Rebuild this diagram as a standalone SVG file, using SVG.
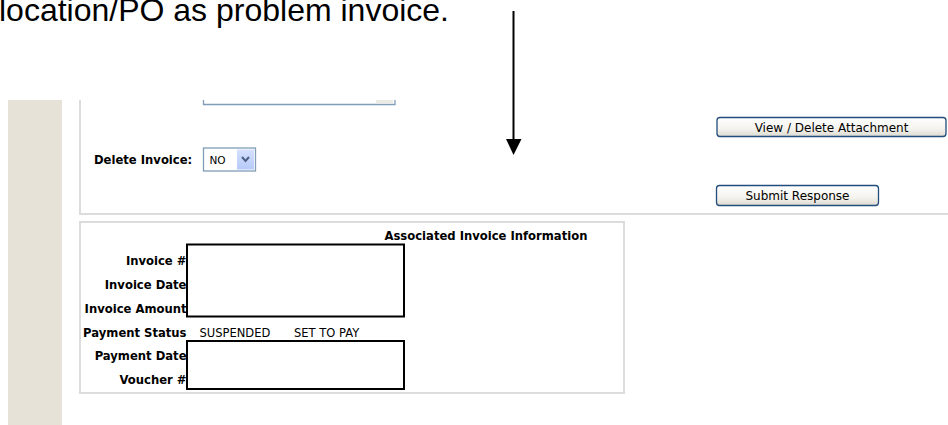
<svg xmlns="http://www.w3.org/2000/svg" width="948" height="425" viewBox="0 0 948 425">
<defs>
<linearGradient id="btn" x1="0" y1="0" x2="0" y2="1">
<stop offset="0" stop-color="#ffffff"/>
<stop offset="0.6" stop-color="#f4f3ee"/>
<stop offset="1" stop-color="#dcdad0"/>
</linearGradient>
<linearGradient id="dd" x1="0" y1="0" x2="0" y2="1">
<stop offset="0" stop-color="#d4e0fd"/>
<stop offset="1" stop-color="#b6c9f8"/>
</linearGradient>
</defs>
<style>
.cap{font-family:"Liberation Sans",Arial,sans-serif;font-size:32px;fill:#000}
.lbl{font-family:"DejaVu Sans",Verdana,sans-serif;font-size:11.6px;font-weight:bold;fill:#000}
.val{font-family:"DejaVu Sans",Verdana,sans-serif;font-size:11.5px;fill:#000}
.btxt{font-family:"DejaVu Sans",Verdana,sans-serif;font-size:12px;fill:#000;text-anchor:middle}
.panel{fill:none;stroke:#dcdcdc;stroke-width:2}
.field{fill:none;stroke:#000;stroke-width:2}
.btn{fill:url(#btn);stroke:#234d7c;stroke-width:1.3}
.inp{fill:#fff;stroke:#7f9db9;stroke-width:1.3}
</style>
<rect width="948" height="425" fill="#fff"/>
<text class="cap" x="-1" y="21">location/PO as problem invoice.</text>
<rect id="sidebar" x="8" y="100" width="54" height="325" fill="#e6e2d7"/>
<g id="top-panel">
<path class="panel" d="M80 100 V214 H948"/>
<path d="M203.5 100 V104.5 H395 V100" fill="none" stroke="#7f9db9" stroke-width="1.3"/>
<rect x="376" y="100" width="17" height="3.5" fill="#ebeae5"/>
</g>
<g id="delete-invoice">
<text class="lbl" x="94" y="164">Delete Invoice:</text>
<rect class="inp" x="203.5" y="148" width="52" height="23"/>
<text class="val" x="209.5" y="164" style="font-size:10.5px">NO</text>
<rect x="237" y="149.5" width="17" height="20" fill="url(#dd)"/>
<path d="M242 157 L245.5 161 L249 157" fill="none" stroke="#4d6185" stroke-width="2"/>
</g>
<g id="btn-view">
<rect class="btn" x="717" y="117.5" width="229" height="19" rx="3"/>
<text class="btxt" x="831.5" y="131.5">View / Delete Attachment</text>
</g>
<g id="btn-submit">
<rect class="btn" x="716.5" y="185.5" width="162" height="20" rx="3"/>
<text class="btxt" x="797.5" y="200">Submit Response</text>
</g>
<g id="connectors">
<line x1="513.5" y1="11" x2="513.5" y2="141" stroke="#000" stroke-width="2"/>
<polygon points="506,139 521.5,139 513.5,155" fill="#000"/>
</g>
<g id="invoice-panel">
<rect class="panel" x="80" y="222" width="544" height="171"/>
<text class="lbl" x="384.5" y="239.5">Associated Invoice Information</text>
<g text-anchor="end">
<text class="lbl" x="186.5" y="265">Invoice #</text>
<text class="lbl" x="186.5" y="288.5">Invoice Date</text>
<text class="lbl" x="186.5" y="312.5">Invoice Amount</text>
<text class="lbl" x="186.5" y="336.5">Payment Status</text>
<text class="lbl" x="186.5" y="360">Payment Date</text>
<text class="lbl" x="186.5" y="384">Voucher #</text>
</g>
<text class="val" x="199.5" y="336.5">SUSPENDED</text>
<text class="val" x="294" y="336.5">SET TO PAY</text>
<rect class="field" x="187" y="244.5" width="217" height="72"/>
<rect class="field" x="187" y="341" width="217" height="48"/>
</g>
</svg>
